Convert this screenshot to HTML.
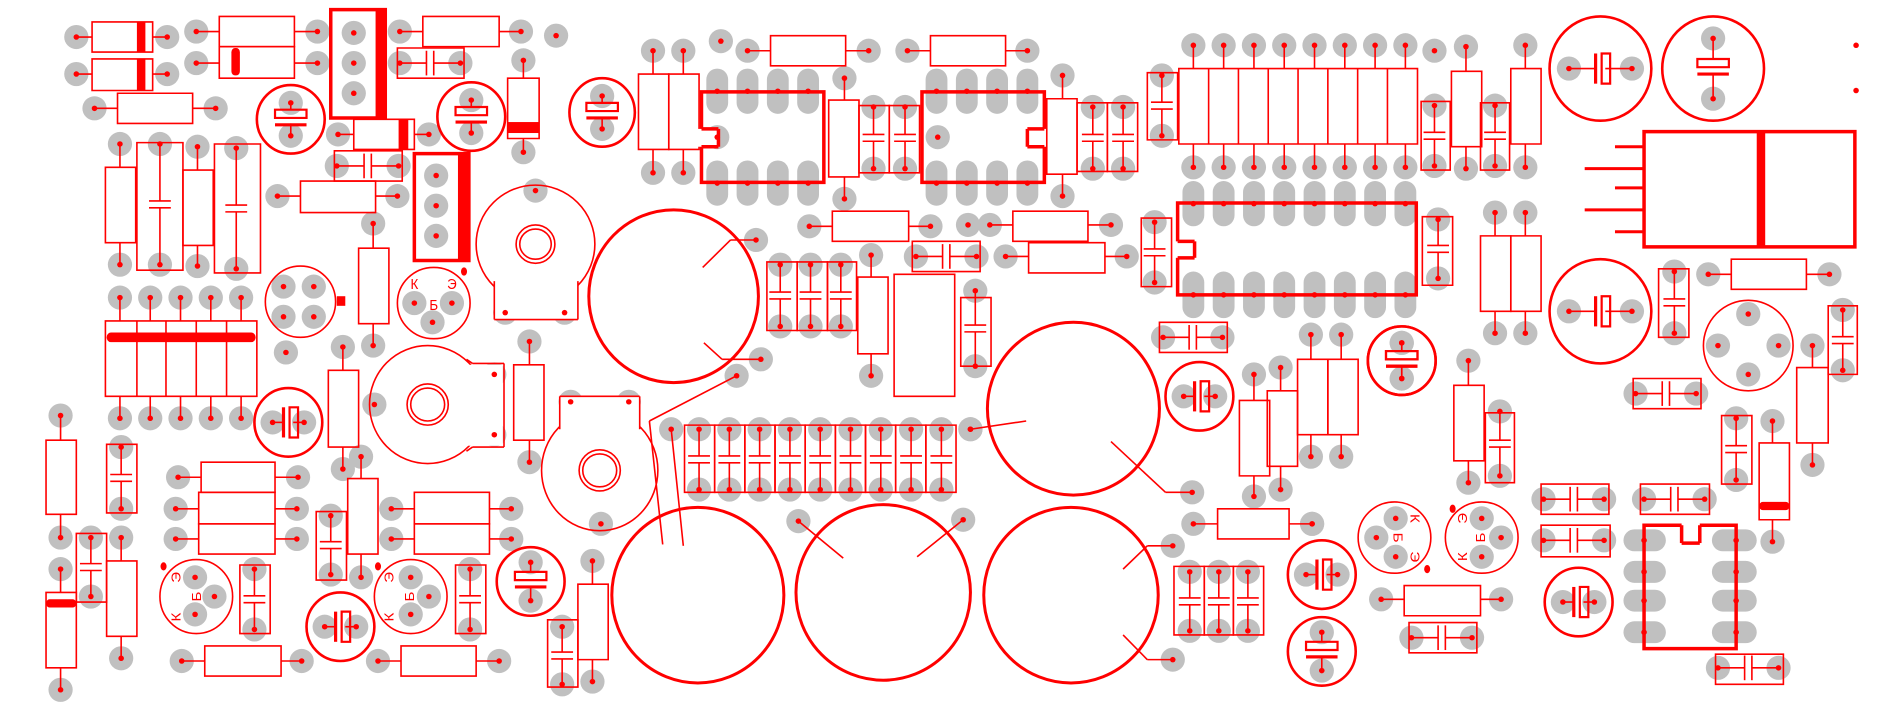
<!DOCTYPE html>
<html><head><meta charset="utf-8"><style>html,body{margin:0;padding:0;background:#fff;overflow:hidden}svg{display:block}</style></head>
<body>
<div id="c"></div>
<script>
let g='',l='',d='';
const RED='#f00';
function P(x,y){g+=`<ellipse cx="${x}" cy="${y}" rx="10" ry="8.8" fill="#c0c0c0"/>`;d+=`<ellipse cx="${x}" cy="${y}" rx="2.3" ry="2" fill="${RED}"/>`;}
function D(x,y){d+=`<ellipse cx="${x}" cy="${y}" rx="2.3" ry="2" fill="${RED}"/>`;}
function L(x1,y1,x2,y2,w){l+=`<line x1="${x1}" y1="${y1}" x2="${x2}" y2="${y2}" stroke="${RED}" stroke-width="${w||1.6}" vector-effect="non-scaling-stroke"/>`;}
function Rc(x1,y1,x2,y2,w){l+=`<rect x="${x1}" y="${y1}" width="${x2-x1}" height="${y2-y1}" fill="none" stroke="${RED}" stroke-width="${w||1.6}" vector-effect="non-scaling-stroke"/>`;}
function F(x1,y1,x2,y2){l+=`<rect x="${x1}" y="${y1}" width="${x2-x1}" height="${y2-y1}" fill="${RED}"/>`;}
function E(cx,cy,rx,ry,w){l+=`<ellipse cx="${cx}" cy="${cy}" rx="${rx}" ry="${ry}" fill="none" stroke="${RED}" stroke-width="${w||1.6}" vector-effect="non-scaling-stroke"/>`;}
function T(x,y,s,rot){l+=`<text x="${x}" y="${y}" font-family="Liberation Sans, DejaVu Sans, sans-serif" font-size="11" fill="${RED}" text-anchor="middle" dominant-baseline="middle"${rot?` transform="rotate(${rot} ${x} ${y})"`:''}>${s}</text>`;}
function RH(x1,x2,y,bx1,bx2,y1,y2){P(x1,y);P(x2,y);L(x1,y,bx1,y);L(bx2,y,x2,y);Rc(bx1,y1,bx2,y2);}
function RV(x,p1,p2,bx1,bx2,by1,by2){P(x,p1);P(x,p2);L(x,p1,x,by1);L(x,by2,x,p2);Rc(bx1,by1,bx2,by2);}
function CV(x,p1,p2,rx1,rx2,ry1,ry2){P(x,p1);P(x,p2);Rc(rx1,ry1,rx2,ry2);const m=(p1+p2)/2;L(x,p1,x,m-2.5);L(x,m+2.5,x,p2);L(x-9,m-2.5,x+9,m-2.5);L(x-9,m+2.5,x+9,m+2.5);}
function CH(p1,p2,y,rx1,rx2,ry1,ry2){P(p1,y);P(p2,y);Rc(rx1,ry1,rx2,ry2);const m=(p1+p2)/2;L(p1,y,m-3,y);L(m+3,y,p2,y);L(m-3,y-9,m-3,y+9);L(m+3,y-9,m+3,y+9);}
function EV(cx,cy,rx,ry,dp){dp=dp||12;P(cx,cy-dp);P(cx,cy+dp);E(cx,cy,rx,ry,2.6);L(cx,cy-dp,cx,cy-7);L(cx,cy+3,cx,cy+dp);Rc(cx-13,cy-7,cx+13,cy-1,2.2);L(cx-13,cy+4,cx+13,cy+4,3.2);}
function EH(cx,cy,rx,ry,dp){dp=dp||13;P(cx-dp,cy);P(cx+dp,cy);E(cx,cy,rx,ry,2.6);L(cx-dp,cy,cx-4,cy);L(cx+4,cy,cx+dp,cy);L(cx-4,cy-11,cx-4,cy+11,3.2);Rc(cx+1,cy-11,cx+8,cy+11,2.2);}
function OV(x,y1,y2){g+=`<rect x="${x-9}" y="${y1}" width="18" height="${y2-y1}" rx="9" ry="8" fill="#c0c0c0"/>`;D(x,(y1+y2)/2);}
function OH(x1,x2,y){g+=`<rect x="${x1}" y="${y-8}" width="${x2-x1}" height="16" rx="9" ry="8" fill="#c0c0c0"/>`;}

// ===== left region =====
RH(63,138,27,76,126,16,38);F(113,16,120,38);
RH(63,138,54,76,126,43,66);F(113,43,120,66);
RH(78,178,79,97,159,68,90);
RH(162,262,23,181,243,12,34);
RH(162,262,46,181,243,34,57);l+=`<rect x="191" y="35" width="7" height="20" rx="3" fill="${RED}"/>`;
Rc(273,7,318,86,3.5);F(310,7,318,86);P(292,24);P(292,46);P(292,68);
RH(330,430,23,349,412,12,34);
P(459,26);
CH(330,380,46,328,383,35,57);
EV(240,87,28,25);
RH(279,354,98,292,342,87,109);F(329,87,337,109);
CH(278,329,121,276,332,110,132);
EV(389,85,28,25);
RV(432,44,111,419,445,57,101);F(419,89,445,97);
EV(497,82,27,25);
RH(229,328,143,248,310,132,155);
Rc(342,112,387,190,3.5);F(378,112,387,190);P(360,128);P(360,150);P(360,172);
RV(308,163,252,296,321,181,236);
RV(99,105,193,87,112,122,177);
CV(132,105,193,113,151,104,197);
RV(163,107,194,151,176,124,179);
CV(195,108,196,177,215,105,199);
[99,124,149,174,199].forEach(x=>{P(x,217);P(x,305);L(x,217,x,234);L(x,289,x,305);});
Rc(87,234,212,289);[113,137,162,187].forEach(x=>L(x,234,x,289));
l+=`<rect x="88" y="242.5" width="123" height="7" rx="3.5" fill="${RED}"/>`;
// transistor 4-pin
E(248,220,29,26);[[234,209],[259,209],[234,231],[259,231]].forEach(p=>P(p[0],p[1]));F(278,216,285,223);
P(236,257);
// transistor KEB
E(358,221,30,26);P(342,221);P(373,221);P(357,235);T(342,208,'К');T(373,208,'Э');T(358,223,'Б');l+=`<ellipse cx="383" cy="198" rx="2.5" ry="3" fill="${RED}"/>`;
// pot 1
E(442,178,49,43);
g+=`<rect x="408" y="190" width="69" height="43" fill="#fff"/>`;
l+=`<rect x="408" y="205" width="69" height="28" fill="#fff"/>`;
L(408,205,408,233);L(477,205,477,233);L(408,233,477,233);
E(442,178,16,14);E(442,178,13,11);
P(442,139);P(417,228);P(466,228);
// pot 2
E(353,295,48,43);
l+=`<rect x="385" y="266" width="30" height="59" fill="#fff"/>`;
L(390,265,416,265);L(416,265,416,326);L(390,326,416,326);L(385,262,390,265);L(385,329,390,326);
E(353,295,17,15);E(353,295,14,12);
P(309,295);P(408,273);P(408,317);
RV(283,253,342,271,296,270,326);
EH(238,308,28,25);
RV(437,249,337,424,449,266,321);
// pot 3
E(495,343,48,44);
l+=`<rect x="462" y="289" width="66" height="24" fill="#fff"/>`;
L(462,289,528,289);L(462,289,462,313);L(528,289,528,313);
E(495,343,17,15);E(495,343,14,12);
P(471,293);P(519,293);P(496,382);
RV(50,303,392,38,63,321,375);
CV(100,326,371,88,113,324,374);
RH(147,246,348,166,227,337,359);
RH(145,245,371,164,227,359,382);
RH(145,245,393,164,227,382,404);
RV(298,333,421,287,312,349,404);
CV(273,376,419,261,286,373,423);
RH(323,422,371,342,404,359,382);
RH(323,422,393,342,404,382,404);
RV(50,415,503,38,63,432,487);l+=`<rect x="38" y="437" width="25" height="6" rx="3" fill="${RED}"/>`;
CV(75,392,435,63,88,389,439);
RV(100,392,480,88,113,409,464);
// transistors bottom-left
E(162,435,30,27);P(161,421);P(177,435);P(161,448);T(146,421,'Э',-90);T(163,435,'Б',-90);T(146,450,'К',-90);l+=`<ellipse cx="135" cy="413" rx="2.5" ry="3" fill="${RED}"/>`;
CV(210,415,459,198,223,412,462);
EH(281,457,28,25);
E(339,435,30,27);P(339,421);P(354,435);P(339,448);T(322,421,'Э',-90);T(339,435,'Б',-90);T(322,450,'К',-90);l+=`<ellipse cx="312" cy="413" rx="2.5" ry="3" fill="${RED}"/>`;
CV(388,415,459,376,401,412,462);
EV(438,424,28,25,14);
RH(150,249,482,169,232,471,493);
RH(312,412,482,331,393,471,493);
RV(489,409,497,477,502,426,481);
CV(464,457,499,452,477,452,501);

// ===== middle region =====
// big circles
E(556,216,70,63,3);P(624,175);P(628,262);L(580,195,603,175);L(603,175,624,175);L(581,250,596,262);L(596,262,628,262);
P(608,274);L(608,274,536,307);L(536,307,547,397);L(554,313,564,398);
E(886,298,71,63,3);P(801,313);L(801,313,847,307);P(984,359);L(917,322,962,359);L(962,359,984,359);
E(884,434,72,64,3);P(968,398);P(968,481);L(927,415,947,398);L(947,398,968,398);L(927,463,947,481);L(947,481,968,481);
E(729,432,72,64,3);P(659,380);P(795,379);L(659,380,696,407);L(795,379,757,406);
E(576,434,71,64,3);
// top middle
RV(539,37,126,527,552,54,109);RV(564,37,126,552,577,54,109);
P(595,30);
RH(617,717,37,636,698,26,48);
[592,617,642,667].forEach(x=>{OV(x,50,83);OV(x,117,150);});
Rc(579,67,680,133,3.5);l+=`<rect x="576" y="94" width="17" height="13" fill="#fff"/>`;L(579,94,593,94,3.5);L(593,94,593,107,3.5);L(579,107,593,107,3.5);P(592,100);
RV(697,57,145,684,709,73,129);
CV(721,78,123,709,734,77,126);CV(747,78,123,734,759,77,126);
RH(749,848,37,768,830,26,48);
[773,798,823,848].forEach(x=>{OV(x,50,83);OV(x,117,150);});
Rc(761,67,862,133,3.5);l+=`<rect x="848" y="94" width="17" height="13" fill="#fff"/>`;L(862,94,848,94,3.5);L(848,94,848,107,3.5);L(862,107,848,107,3.5);P(774,100);
RV(877,55,143,864,889,72,127);
CV(902,78,123,889,914,75,125);CV(927,78,123,914,939,75,125);
CV(959,55,99,947,972,53,102);
// SIP array
for(let i=0;i<8;i++){const x=985+25*i;P(x,33);P(x,122);L(x,33,x,50);L(x,105,x,122);}
Rc(973,50,1170,105);for(let i=1;i<8;i++)L(973+24.6*i,50,973+24.6*i,105);
// DIP16
for(let i=0;i<8;i++){const x=985+25*i;OV(x,132,165);OV(x,198,232);}
Rc(972,148,1169,215,3.5);l+=`<rect x="969" y="176" width="17" height="12" fill="#fff"/>`;L(972,176,986,176,3.5);L(986,176,986,188,3.5);L(972,188,986,188,3.5);
RH(668,768,165,687,750,154,176);
P(799,164);
RH(817,917,164,836,898,154,176);
CH(756,806,187,753,809,176,198);
RH(830,930,187,849,912,177,199);
CV(953,162,206,942,967,159,209);
CV(644,193,238,633,658,191,241);CV(669,193,238,658,683,191,241);CV(694,193,238,683,707,191,241);
RV(719,186,274,708,733,202,258);
Rc(738,200,788,289);
CV(805,212,267,793,818,217,267);
// 9-cap array
for(let i=0;i<9;i++){const x=577+25*i;CV(x,313,357,565+24.9*i,565+24.9*(i+1),310,359);}
P(554,313);P(801,313);
CH(960,1009,246,957,1013,235,257);
EH(990,289,28,25);
// right-middle resistors
RV(1035,273,362,1023,1048,292,347);
RV(1057,268,357,1046,1071,285,340);
RV(1082,244,333,1071,1096,262,317);RV(1107,244,333,1096,1121,262,317);
EV(1157,263,28,25,13);
RH(985,1083,382,1005,1064,371,393);
CV(982,417,460,969,994,413,463);CV(1006,417,460,994,1018,413,463);CV(1030,417,460,1018,1043,413,463);

// ===== right region =====
P(1184,37);
RV(1210,34,123,1198,1223,52,107);
CV(1184,77,121,1173,1197,74,124);
CV(1234,77,121,1222,1246,75,124);
RV(1259,33,122,1247,1272,50,105);
EH(1321,50,42,38,26);
EV(1414,50,42,38,22);
D(1532,33);D(1532,66);
Rc(1357,96,1531,180,3.5);F(1450,96,1457,180);
[[107,1333],[123,1308],[137,1333],[153,1308],[169,1333]].forEach(a=>L(a[1],a[0],1357,a[0],3));
CV(1187,160,203,1174,1199,158,208);
RV(1234,155,243,1222,1247,172,227);RV(1259,155,243,1247,1272,172,227);
EH(1321,227,42,38,26);
CV(1382,198,243,1369,1394,196,246);
RH(1410,1510,200,1429,1491,189,211);
E(1443,252,37,33);P(1443,229);P(1418,252);P(1468,252);P(1443,273);
CV(1521,226,270,1509,1533,223,273);
RV(1496,252,339,1483,1509,268,323);
CH(1350,1400,287,1348,1404,276,298);
EV(1157,263,28,25,13);
RV(1212,263,352,1200,1225,281,336);
CV(1238,300,347,1226,1250,301,352);
CV(1433,305,350,1421,1446,303,353);
RV(1463,307,395,1452,1477,323,379);l+=`<rect x="1452" y="366" width="25" height="6" rx="3" fill="${RED}"/>`;
CH(1274,1324,364,1272,1328,353,375);
CH(1357,1407,364,1354,1411,353,375);
CH(1274,1324,394,1272,1329,383,406);
// DIP8 vertical
[394,417,438,461].forEach(y=>{OH(1340,1375,y);OH(1413,1450,y);D(1357,y);D(1433,y);});
Rc(1357,383,1433,473,3.5);l+=`<rect x="1388" y="380" width="15" height="16" fill="#fff"/>`;L(1388,383,1388,396,3.5);L(1388,396,1403,396,3.5);L(1403,383,1403,396,3.5);
CH(1418,1468,487,1416,1472,477,499);
EH(1303,439,28,25);
E(1151,392,30,26);P(1152,378);P(1136,392);P(1152,406);T(1167,378,'К',90);T(1153,392,'Б',90);T(1167,406,'Э',90);l+=`<ellipse cx="1178" cy="415" rx="2.5" ry="3" fill="${RED}"/>`;
E(1223,392,30,26);P(1223,378);P(1239,392);P(1223,406);T(1208,378,'Э',-90);T(1223,392,'Б',-90);T(1208,406,'К',-90);l+=`<ellipse cx="1199" cy="371" rx="2.5" ry="3" fill="${RED}"/>`;
RH(1140,1239,437,1159,1222,427,449);
CH(1165,1215,465,1163,1219,454,476);
EH(1091,419,28,25);
EV(1091,475,28,25,14);
P(1083,382);

document.getElementById('c').innerHTML=`<svg width="1890" height="709" viewBox="0 0 1560 517" preserveAspectRatio="none"><rect width="1560" height="517" fill="#fff"/><g>${g}</g><g>${l}</g><g>${d}</g></svg>`;
</script>
</body></html>
